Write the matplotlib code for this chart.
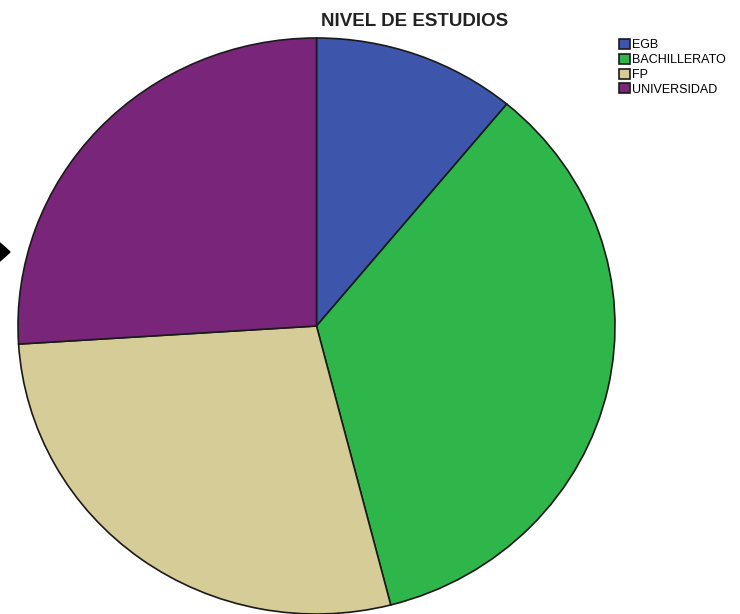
import matplotlib
matplotlib.use("Agg")
from matplotlib import pyplot as plt

# datos del grafico
categorias = ["EGB", "BACHILLERATO", "FP", "UNIVERSIDAD"]
porcentajes = [11, 35, 28, 26]
colores = ["#3d56ab", "#2fb64a", "#d5cc98", "#79267a"]

plt.rcParams["font.family"] = ["Liberation Sans", "DejaVu Sans"]

fig = plt.figure(figsize=(7.4, 6.14), dpi=100)
ax = fig.add_axes([18 / 740, 0 / 614, 597 / 740, 576 / 614])

wedges, _ = ax.pie(porcentajes, colors=colores, startangle=90, counterclock=False,
                   radius=1, wedgeprops=dict(edgecolor="#1a1a1a", linewidth=1.2))
ax.set_aspect("auto")
ax.set_xlim(-1, 1)
ax.set_ylim(-1, 1)
ax.axis("off")

fig.text(415 / 740, 1 - 21 / 614, "NIVEL DE ESTUDIOS", ha="center", va="center",
         fontsize=13.5, fontweight="bold", color="#222222")

fig.legend(wedges, categorias, loc="upper left", bbox_to_anchor=(619 / 740, 1 - 39 / 614),
           frameon=False, fontsize=9, handlelength=0.85, handleheight=0.85,
           handletextpad=0.2, labelspacing=0.2, borderpad=0, borderaxespad=0)

# flecha negra en el borde izquierdo
fig.patches.append(plt.Polygon([[0 / 740, 1 - 243 / 614], [10 / 740, 1 - 252 / 614],
                                [0 / 740, 1 - 261 / 614]], closed=True,
                               transform=fig.transFigure, color="black"))

fig.savefig("out.png", dpi=100)
